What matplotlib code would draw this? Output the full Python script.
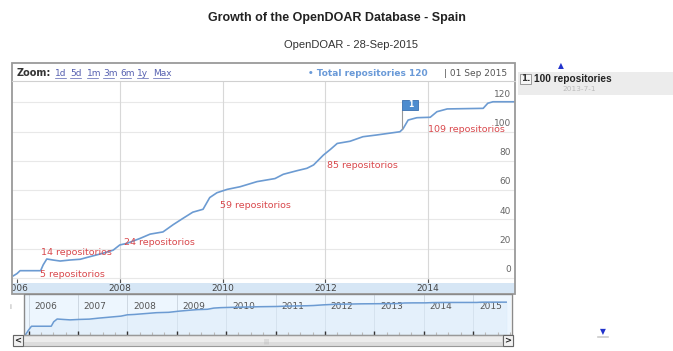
import matplotlib
matplotlib.use("Agg")
import matplotlib.pyplot as plt
from matplotlib.patches import Rectangle

W, H = 673, 351

# Total repositories in OpenDOAR for Spain (decimal year, count)
years = [2005.93, 2006.00, 2006.06, 2006.46, 2006.51, 2006.58, 2006.70, 2006.84,
         2007.03, 2007.23, 2007.42, 2007.67, 2007.87, 2008.00, 2008.14, 2008.39,
         2008.59, 2008.84, 2009.04, 2009.23, 2009.42, 2009.62, 2009.75, 2009.89,
         2010.09, 2010.34, 2010.67, 2011.02, 2011.18, 2011.45, 2011.64, 2011.77,
         2011.96, 2012.10, 2012.23, 2012.48, 2012.73, 2013.00, 2013.45, 2013.51,
         2013.61, 2013.78, 2014.04, 2014.17, 2014.37, 2015.07, 2015.16, 2015.26,
         2015.67]
repos = [1.5, 3, 5, 5, 9, 13, 12.3, 11.6,
         12.3, 12.8, 14.6, 16.9, 19, 22.6, 23.7, 27,
         30, 31.5, 36.5, 40.8, 45, 47, 55, 58.3,
         60.6, 62.4, 65.9, 68, 70.9, 73.4, 75, 77.3,
         84, 88, 92, 93.5, 96.6, 97.8, 100, 102,
         108, 109.6, 109.9, 113.7, 115.6, 116, 119.5, 120.5,
         120.5]

grid_vals = [0, 20, 40, 60, 80, 100, 120]
main_years = [2006, 2008, 2010, 2012, 2014]
nav_years = list(range(2006, 2016))

note_texts = ["5 repositorios", "14 repositorios", "24 repositorios",
              "59 repositorios", "85 repositorios", "109 repositorios"]
note_x = [2006.45, 2006.46, 2008.08, 2009.95, 2012.03, 2014.00]
note_y = [2.7, 17.1, 24.6, 49.9, 76.6, 101.2]

flag_date = 2013.5
flag_value = 100
flag_label = "100 repositories"
flag_day = "2013-7-1"
total_now = 120
last_date = "01 Sep 2015"
zoom_links = ["1d", "5d", "1m", "3m", "6m", "1y", "Max"]
zoom_link_x = [55, 70, 87, 103, 120, 137, 153]

LINE = "#6c9bd2"
RED = "#d9484c"

plt.rcParams["font.family"] = "DejaVu Sans"


def px_box(x0, y0, x1, y1):
    """pixel box (top-left origin) -> figure fraction rect"""
    return [x0 / W, 1 - y1 / H, (x1 - x0) / W, (y1 - y0) / H]


fig = plt.figure(figsize=(W / 100, H / 100), dpi=100)

# ---- main plot
ax = fig.add_axes(px_box(12, 81, 515, 283))
ax.set_xlim(2005.903, 2015.689)
ax.set_ylim(-3.42, 134.7)
for s in ax.spines.values():
    s.set_visible(False)
for v in grid_vals:
    ax.axhline(v, color="#e8e8e8", lw=0.8, zorder=0)
for yr in main_years[1:]:
    ax.axvline(yr, color="#d8d8d8", lw=0.8, zorder=0)
ax.plot(years, repos, color=LINE, lw=1.2, zorder=3)
ax.set_yticks([])
ax.set_xticks(main_years)
ax.set_xticklabels([])
ax.tick_params(axis="x", direction="in", length=3, color="#555", width=0.8)

for v in grid_vals:
    ax.annotate(str(v), xy=(1, v), xycoords=("axes fraction", "data"),
                xytext=(-3, 6), textcoords="offset points",
                ha="right", va="center", fontsize=6.5, color="#666")

for t, x, y in zip(note_texts, note_x, note_y):
    ax.text(x, y, t, color=RED, fontsize=6.8, ha="left", va="center", zorder=4)

# flag marker
ax.plot([flag_date, flag_date], [flag_value + 2, 114.9], color="#999", lw=0.8, zorder=4)
ax.add_patch(Rectangle((flag_date, 114.9), 0.31, 6.8, facecolor="#4d8ccf",
                       edgecolor="#3a70b0", lw=0.6, zorder=5))
ax.text(flag_date + 0.155, 118.3, "1", color="white", fontsize=5.5,
        fontweight="bold", ha="center", va="center", zorder=6)

# ---- x label band
band = fig.add_axes(px_box(12, 283, 515, 293))
band.set_xlim(ax.get_xlim())
band.set_ylim(0, 1)
band.set_facecolor("#d6e6f5")
band.set_xticks([])
band.set_yticks([])
for s in band.spines.values():
    s.set_visible(False)
for yr in main_years:
    band.text(yr, 0.45, str(yr), ha="center", va="center", fontsize=6.5,
              color="#444", clip_on=True)

# ---- navigator
nav = fig.add_axes(px_box(25, 295, 511, 335))
nav.set_xlim(2005.929, 2015.767)
nav.set_yscale("log")
nav.set_ylim(1.57, 310)
nav.set_facecolor("#edf6fe")
for s in nav.spines.values():
    s.set_visible(False)
nav.set_xticks(nav_years)
nav.set_xticks([y + q / 4 for y in nav_years for q in (1, 2, 3)], minor=True)
nav.set_xticklabels([])
nav.set_yticks([])
nav.set_yticks([], minor=True)
nav.tick_params(axis="x", which="major", direction="in", length=3, color="#333", width=1)
nav.tick_params(axis="x", which="minor", direction="in", length=2, color="#bbb", width=0.8)
for yr in nav_years:
    nav.axvline(yr, color="#c9d3dd", lw=0.6, zorder=0)
    nav.text(yr + 0.12, 0.72, str(yr), transform=nav.get_xaxis_transform(),
             ha="left", va="center", fontsize=6.5, color="#555", clip_on=True)
nav.fill_between(years, repos, 1.0, color="#dcecfa", alpha=0.5, zorder=1)
nav.plot(years, repos, color=LINE, lw=1.1, zorder=3)

# ---- overlay for titles, frames and side panel
ov = fig.add_axes([0, 0, 1, 1], zorder=10)
ov.set_xlim(0, W)
ov.set_ylim(H, 0)
ov.axis("off")
ov.patch.set_visible(False)

ov.text(337, 18, "Growth of the OpenDOAR Database - Spain", ha="center", va="center",
        fontsize=9, fontweight="bold", family="Liberation Sans", color="#222")
ov.text(351, 45, "OpenDOAR - 28-Sep-2015", ha="center", va="center",
        fontsize=8, family="Liberation Sans", color="#333")

# chart frame + header
ov.add_patch(Rectangle((12, 63), 503, 231, fill=False, edgecolor="#9a9a9a", lw=1.3))
ov.plot([12, 515], [80.5, 80.5], color="#d0d0d0", lw=0.8)
ov.text(17, 73, "Zoom:", ha="left", va="center", fontsize=7, fontweight="bold", color="#333")
for lab, x in zip(zoom_links, zoom_link_x):
    ov.text(x, 73, lab, ha="left", va="center", fontsize=6.5, color="#5660b0")
    ov.plot([x, x + 5.3 * len(lab)], [77.5, 77.5], color="#5660b0", lw=0.5)
ov.text(428, 73, "\u2022 Total repositories %d" % total_now, ha="right", va="center",
        fontsize=6.5, color="#6a9ad8", fontweight="bold")
ov.text(507, 73, "| " + last_date, ha="right", va="center", fontsize=6.5, color="#555")

# navigator frame and scrollbar
ov.add_patch(Rectangle((24, 294), 488, 41, fill=False, edgecolor="#8a8a8a", lw=1.0))
ov.add_patch(Rectangle((13, 335), 500, 11, facecolor="#dcdcdc", edgecolor="#999", lw=0.8))
ov.add_patch(Rectangle((24, 336.5), 478, 5, facecolor="#ececec", edgecolor="none"))
for bx, ch in ((13, "<"), (503, ">")):
    ov.add_patch(Rectangle((bx, 335), 10, 11, facecolor="#f2f2f2", edgecolor="#666", lw=0.8))
    ov.text(bx + 5, 340.5, ch, ha="center", va="center", fontsize=6, fontweight="bold", color="#222")
ov.text(266, 341, "|||", ha="center", va="center", fontsize=4, color="#aaa")
ov.text(10, 307, "i", ha="center", va="center", fontsize=5, color="#999")

# side annotation panel
ov.add_patch(Rectangle((518, 72), 155, 23, facecolor="#ececec", edgecolor="none"))
ov.add_patch(Rectangle((520, 73.5), 10.5, 10, facecolor="#f6f6f6", edgecolor="#999", lw=0.7))
ov.text(525.3, 78.5, "1.", ha="center", va="center", fontsize=6.3, fontweight="bold", color="#333")
ov.text(534, 78.5, flag_label, ha="left", va="center", fontsize=7.3, fontweight="bold",
        family="Liberation Sans", color="#222")
ov.text(579, 89, flag_day, ha="center", va="center", fontsize=5.3, color="#bbb")
ov.text(561, 66, "\u25b2", ha="center", va="center", fontsize=5.5, color="#2233cc")
ov.text(603, 332, "\u25bc", ha="center", va="center", fontsize=5.5, color="#2233cc")
ov.plot([598, 608], [336.5, 336.5], color="#ccc", lw=1.2)

fig.savefig("out.png", dpi=100)
